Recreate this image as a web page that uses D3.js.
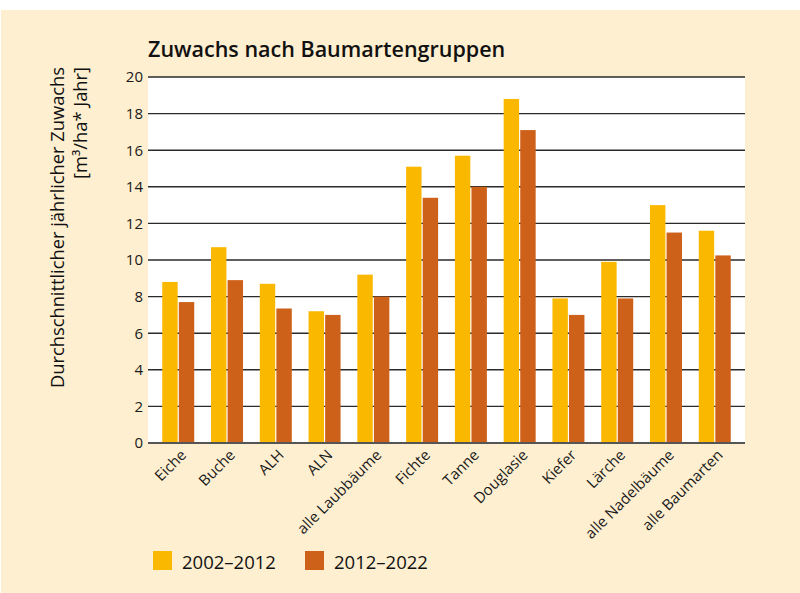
<!DOCTYPE html>
<html lang="de">
<head>
<meta charset="utf-8">
<title>Zuwachs nach Baumartengruppen</title>
<script src="https://cdn.jsdelivr.net/npm/d3@7"></script>
<style>
  body { margin: 0; background: #fff; }
  svg { display: block; font-family: "Open Sans", "Noto Sans", sans-serif; }
</style>
</head>
<body>
<div id="chart"></div>
<script>
// Daten
var categories = ["Eiche", "Buche", "ALH", "ALN", "alle Laubbäume", "Fichte", "Tanne",
  "Douglasie", "Kiefer", "Lärche", "alle Nadelbäume", "alle Baumarten"];
var series = ["2002–2012", "2012–2022"];
var values2002 = [8.8, 10.7, 8.7, 7.2, 9.2, 15.1, 15.7, 18.8, 7.9, 9.9, 13.0, 11.6];
var values2012 = [7.7, 8.9, 7.35, 7.0, 8.0, 13.4, 14.0, 17.1, 7.0, 7.9, 11.5, 10.25];
var yTicks = [0, 2, 4, 6, 8, 10, 12, 14, 16, 18, 20];
var colors = ["#FBB800", "#CE611A"];

function drawChart() {
  var W = 800, H = 593;
  var pLeft = 148, pRight = 745, pTop = 77, pBottom = 443;

  var svg = d3.select("#chart").append("svg").attr("width", W).attr("height", H);

  // Hintergrund
  svg.append("rect").attr("x", 1).attr("y", 10).attr("width", W - 1).attr("height", H - 10)
    .attr("fill", "#FEEFD0");
  svg.append("rect").attr("x", pLeft).attr("y", pTop).attr("width", pRight - pLeft).attr("height", pBottom - pTop)
    .attr("fill", "#fff");

  var x = d3.scalePoint().domain(categories).range([pLeft, pRight]).padding(0.62);
  var xs = d3.scaleBand().domain(series).range([-16, 16]).paddingInner(0.07);
  var y = d3.scaleLinear().domain([0, 20]).range([pBottom, pTop]);

  // Gitterlinien
  svg.append("g").selectAll("line").data(yTicks).enter().append("line")
    .attr("x1", pLeft).attr("x2", pRight)
    .attr("y1", function(d) { return y(d); }).attr("y2", function(d) { return y(d); })
    .attr("stroke", function(d) { return d == 0 ? "#555" : "#2a2a2a"; })
    .attr("stroke-width", function(d) { return d == 0 ? 2 : 1.4; });

  // Y-Achse
  var yAxis = svg.append("g").attr("transform", "translate(" + pLeft + ",0)")
    .call(d3.axisLeft(y).tickValues(yTicks).tickSize(0).tickPadding(5));
  yAxis.select(".domain").remove();
  yAxis.selectAll("text").attr("font-size", 15).attr("fill", "#1a1a1a")
    .attr("font-family", "'Open Sans', sans-serif");

  // Balken
  var rows = categories.map(function(c, i) { return { cat: c, vals: [values2002[i], values2012[i]] }; });
  var groups = svg.append("g").selectAll("g").data(rows).enter().append("g")
    .attr("transform", function(d) { return "translate(" + x(d.cat) + ",0)"; });
  groups.selectAll("rect").data(function(d) {
      return d.vals.map(function(v, j) { return { s: series[j], v: v, j: j }; });
    }).enter().append("rect")
    .attr("x", function(d) { return xs(d.s); })
    .attr("width", xs.bandwidth())
    .attr("y", function(d) { return y(d.v); })
    .attr("height", function(d) { return y(0) - y(d.v) - 1; })
    .attr("fill", function(d) { return colors[d.j]; });

  // X-Beschriftung
  svg.append("g").selectAll("text").data(categories).enter().append("text")
    .attr("transform", function(d) { return "translate(" + (x(d) + 9) + "," + (pBottom + 13) + ") rotate(-45)"; })
    .attr("text-anchor", "end")
    .attr("font-size", 15)
    .attr("fill", "#1a1a1a")
    .text(function(d) { return d; });

  // Titel
  svg.append("text").attr("x", pLeft).attr("y", 57)
    .attr("font-size", 21.5).attr("font-weight", 600).attr("fill", "#111")
    .text("Zuwachs nach Baumartengruppen");

  // Achsentitel
  var yl = svg.append("text").attr("transform", "rotate(-90)")
    .attr("text-anchor", "end").attr("font-size", 18.3).attr("fill", "#111");
  yl.append("tspan").attr("x", -67).attr("y", 64).text("Durchschnittlicher jährlicher Zuwachs");
  yl.append("tspan").attr("x", -67).attr("y", 87).text("[m³/ha* Jahr]");

  // Legende
  var leg = svg.append("g").selectAll("g").data(series).enter().append("g")
    .attr("transform", function(d, i) { return "translate(" + (153 + i * 152) + ",551)"; });
  leg.append("rect").attr("width", 19).attr("height", 19)
    .attr("fill", function(d, i) { return colors[i]; });
  leg.append("text").attr("x", 29).attr("y", 18).attr("font-size", 18.5).attr("fill", "#111")
    .text(function(d) { return d; });
}

drawChart();
</script>
</body>
</html>
